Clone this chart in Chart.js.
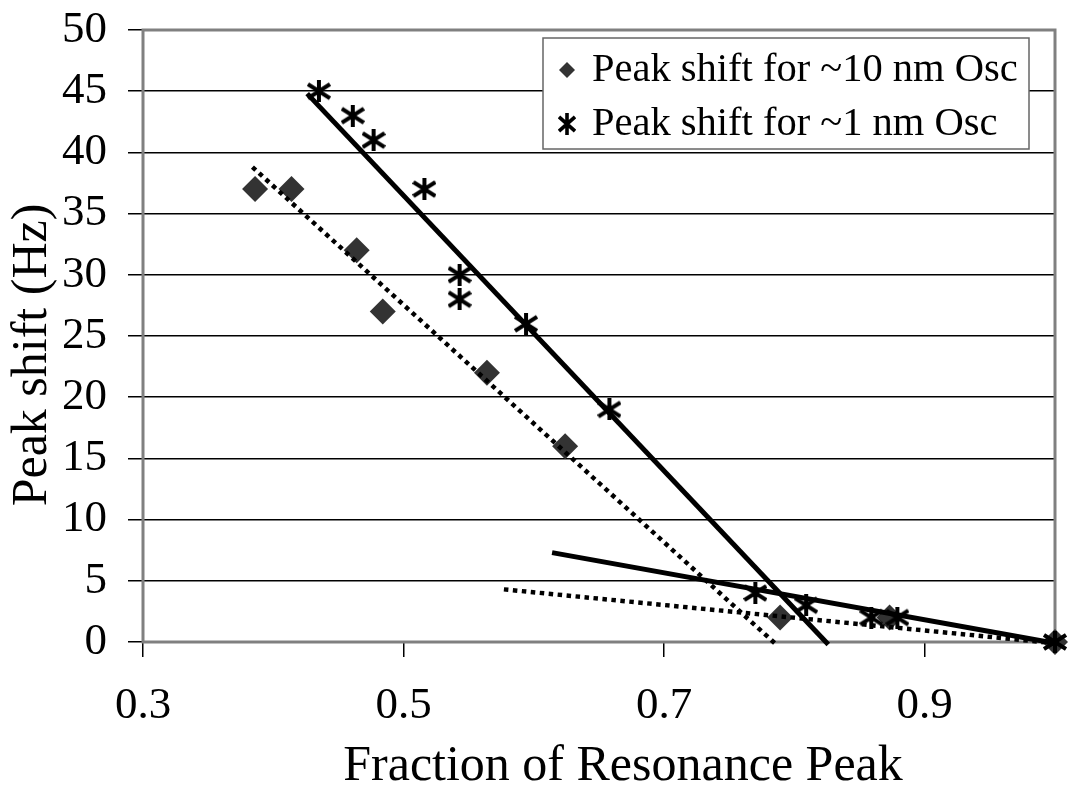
<!DOCTYPE html>
<html>
<head>
<meta charset="utf-8">
<title>Peak shift vs fraction of resonance peak</title>
<script src="https://cdn.jsdelivr.net/npm/chart.js@4.4.1/dist/chart.umd.min.js"></script>
<style>
  html, body { margin: 0; padding: 0; background: #fff; }
  #wrap { width: 1068px; height: 794px; }
</style>
</head>
<body>
<div id="wrap"><canvas id="chart" width="1068" height="794"></canvas></div>
<script>
// Data
const osc10X = [0.386, 0.414, 0.464, 0.484, 0.564, 0.624, 0.789, 0.873, 1.0];
const osc10Y = [37, 37, 32, 27, 22, 16, 2, 2, 0];

const osc1X = [0.435, 0.461, 0.477, 0.516, 0.543, 0.543, 0.594, 0.658, 0.770, 0.809, 0.859, 0.879, 1.0];
const osc1Y = [45, 43, 41, 37, 30, 28, 26, 19, 4, 3, 2, 2, 0];

// trend lines (end points)
const fit1SteepX = [0.426, 0.826];
const fit1SteepY = [44.8, -0.2];
const fit1FlatX = [0.614, 1.0];
const fit1FlatY = [7.3, -0.1];
const fit10SteepX = [0.384, 0.787];
const fit10SteepY = [38.8, -0.3];
const fit10FlatX = [0.577, 1.0];
const fit10FlatY = [4.3, -0.1];

const xTicks = [0.3, 0.5, 0.7, 0.9];
const yMin = 0, yMax = 50, yStep = 5;

const labels = ['Peak shift for ~10 nm Osc', 'Peak shift for ~1 nm Osc'];
const xTitle = 'Fraction of Resonance Peak';
const yTitle = 'Peak shift (Hz)';

const SERIF = '"Liberation Serif", "Times New Roman", Times, serif';
const DIAMOND = '#333333';

function toPoints(xs, ys) {
    return xs.map((x, i) => ({ x: x, y: ys[i] }));
}

// asterisk marker (vertical bar + X)
function makeStar(w, h, lw) {
    const c = document.createElement('canvas');
    c.width = w; c.height = h;
    const g = c.getContext('2d');
    g.strokeStyle = '#000';
    g.lineWidth = lw;
    g.beginPath();
    g.moveTo(w / 2, 0); g.lineTo(w / 2, h);
    g.moveTo(1, h * 0.18); g.lineTo(w - 1, h * 0.82);
    g.moveTo(1, h * 0.82); g.lineTo(w - 1, h * 0.18);
    g.stroke();
    return c;
}
const starImg = makeStar(24, 22, 4);

function fitLine(xs, ys, dashed) {
    return {
        type: 'line',
        data: toPoints(xs, ys),
        borderColor: '#000',
        borderWidth: dashed ? 4.5 : 5,
        borderDash: dashed ? [4.5, 4.5] : [],
        borderCapStyle: 'butt',
        pointRadius: 0,
        showLine: true,
        fill: false,
        clip: false,
        order: 1,
        inLegend: false
    };
}

// plot frame, drawn under the markers
const framePlugin = {
    id: 'frame',
    beforeDatasetsDraw(chart) {
        const { ctx, chartArea: a } = chart;
        ctx.save();
        ctx.strokeStyle = '#808080';
        ctx.lineWidth = 3;
        ctx.strokeRect(a.left, a.top, a.right - a.left, a.bottom - a.top);
        ctx.restore();
    }
};

// axis titles, placed as in the original figure
const axisTitles = {
    id: 'axisTitles',
    afterDraw(chart) {
        const ctx = chart.ctx;
        ctx.save();
        ctx.fillStyle = '#000';
        ctx.font = '50px ' + SERIF;
        ctx.textAlign = 'center';
        ctx.textBaseline = 'middle';
        ctx.fillText(xTitle, 623, 767);
        ctx.translate(33, 355);
        ctx.rotate(-Math.PI / 2);
        ctx.fillText(yTitle, 0, 0);
        ctx.restore();
    }
};

// boxed legend inside the plot, top right
const boxLegend = {
    id: 'boxLegend',
    afterDraw(chart) {
        const ctx = chart.ctx;
        const items = chart.data.datasets.filter(d => d.inLegend);
        const x0 = 543, y0 = 38, w = 486, h = 111;
        ctx.save();
        ctx.fillStyle = '#fff';
        ctx.fillRect(x0, y0, w, h);
        ctx.strokeStyle = '#666';
        ctx.lineWidth = 1.5;
        ctx.strokeRect(x0, y0, w, h);
        ctx.font = '40.5px ' + SERIF;
        ctx.textBaseline = 'alphabetic';
        items.forEach((d, i) => {
            const cy = 70 + i * 54;
            const mx = 567;
            if (d.legendMark === 'diamond') {
                ctx.fillStyle = DIAMOND;
                ctx.beginPath();
                ctx.moveTo(mx, cy - 8); ctx.lineTo(mx + 8, cy);
                ctx.lineTo(mx, cy + 8); ctx.lineTo(mx - 8, cy);
                ctx.closePath();
                ctx.fill();
            } else {
                ctx.drawImage(makeStar(18, 22, 3.6), mx - 9, cy - 11);
            }
            ctx.fillStyle = '#000';
            ctx.fillText(d.label, 592, cy + 11);
        });
        ctx.restore();
    }
};

new Chart(document.getElementById('chart'), {
    type: 'scatter',
    data: {
        datasets: [
            {
                label: labels[0],
                data: toPoints(osc10X, osc10Y),
                pointStyle: 'rectRot',
                pointRadius: 13,
                backgroundColor: DIAMOND,
                borderColor: DIAMOND,
                borderWidth: 0,
                clip: false,
                order: 2,
                inLegend: true,
                legendMark: 'diamond'
            },
            {
                label: labels[1],
                data: toPoints(osc1X, osc1Y),
                pointStyle: starImg,
                pointRadius: 12,
                clip: false,
                order: 0,
                inLegend: true,
                legendMark: 'star'
            },
            fitLine(fit1SteepX, fit1SteepY, false),
            fitLine(fit1FlatX, fit1FlatY, false),
            fitLine(fit10SteepX, fit10SteepY, true),
            fitLine(fit10FlatX, fit10FlatY, true)
        ]
    },
    options: {
        responsive: false,
        animation: false,
        devicePixelRatio: 1,
        events: [],
        layout: { padding: { top: 30, right: 10, left: 0, bottom: 0 } },
        plugins: {
            legend: { display: false },
            tooltip: { enabled: false }
        },
        scales: {
            x: {
                type: 'linear',
                min: 0.3,
                max: 1.0,
                afterBuildTicks: s => { s.ticks = xTicks.map(v => ({ value: v })); },
                afterFit: s => { s.height = 152; s.paddingLeft = 0; s.paddingRight = 0; },
                border: { display: false },
                grid: {
                    drawOnChartArea: false,
                    drawTicks: true,
                    tickLength: 15,
                    color: '#000',
                    lineWidth: 1.5
                },
                ticks: {
                    color: '#000',
                    padding: 22,
                    maxRotation: 0,
                    font: { family: SERIF, size: 45 },
                    callback: v => v.toFixed(1)
                }
            },
            y: {
                min: yMin,
                max: yMax,
                afterFit: s => { s.width = 143; s.paddingTop = 0; s.paddingBottom = 0; },
                border: { display: false },
                grid: {
                    color: '#000',
                    lineWidth: 1.5,
                    tickLength: 15
                },
                ticks: {
                    stepSize: yStep,
                    color: '#000',
                    padding: 21,
                    font: { family: SERIF, size: 45 }
                }
            }
        }
    },
    plugins: [framePlugin, boxLegend, axisTitles]
});
</script>
</body>
</html>
